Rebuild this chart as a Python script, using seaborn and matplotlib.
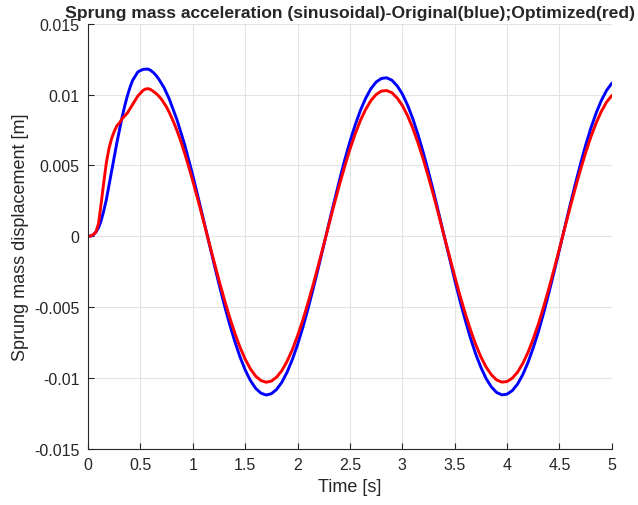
import numpy as np
import pandas as pd
import seaborn as sns
import matplotlib
matplotlib.use("Agg")
import matplotlib.pyplot as plt
from matplotlib.ticker import FuncFormatter

# time samples [s]: every 0.025 s up to 1 s (fast transient), then every 0.05 s
time_early = np.round(np.arange(41) * 0.025, 3)
time_late = np.round(1.05 + np.arange(80) * 0.05, 2)
time_s = np.concatenate([time_early, time_late])

# sprung mass displacement [m]
blue_early = [
    0.0, 0.00002, 0.0001, 0.0003, 0.0006, 0.0011, 0.0018, 0.0026, 0.0036, 0.0046,
    0.0056, 0.0066, 0.0075, 0.0084, 0.0092, 0.0099, 0.0105, 0.0110, 0.0113, 0.0116,
    0.0117, 0.01178, 0.0118, 0.0118, 0.0117, 0.01155, 0.01135, 0.0111, 0.0108, 0.0105,
    0.0101, 0.0097, 0.0092, 0.0087, 0.0082, 0.0076, 0.0070, 0.0064, 0.0057, 0.0050,
    0.0043,
]
blue_late = [
    0.00277, 0.00124, -0.00031, -0.00186, -0.00337, -0.00482, -0.00617, -0.00740, -0.00850,
    -0.00943, -0.01018, -0.01073, -0.01107, -0.01120, -0.01111, -0.01081, -0.01030, -0.00959, -0.00870,
    -0.00764, -0.00644, -0.00510, -0.00367, -0.00217, -0.00063, 0.00093, 0.00246, 0.00395, 0.00538,
    0.00669, 0.00786, 0.00889, 0.00974, 0.01042, 0.01089, 0.01114, 0.01119, 0.01102, 0.01063,
    0.01005, 0.00926, 0.00830, 0.00717, 0.00591, 0.00454, 0.00309, 0.00156, 0.0, -0.00153,
    -0.00307, -0.00454, -0.00590, -0.00717, -0.00830, -0.00925, -0.01004, -0.01063, -0.01102, -0.01119,
    -0.01114, -0.01089, -0.01043, -0.00976, -0.00890, -0.00786, -0.00670, -0.00539, -0.00396, -0.00248,
    -0.00094, 0.00062, 0.00216, 0.00366, 0.00508, 0.00643, 0.00764, 0.00870, 0.00959, 0.01030,
    0.01081,
]
red_early = [
    0.0, 0.00003, 0.00012, 0.0003, 0.0009, 0.0023, 0.0038, 0.0052, 0.0062, 0.0069,
    0.0074, 0.0078, 0.0080, 0.0083, 0.0085, 0.0087, 0.0090, 0.0093, 0.0096, 0.0099,
    0.0101, 0.0103, 0.0104, 0.01042, 0.01035, 0.01022, 0.01008, 0.00990, 0.00968, 0.00941,
    0.00911, 0.00875, 0.00835, 0.00791, 0.00744, 0.00693, 0.00638, 0.00580, 0.00519, 0.00456,
    0.00390,
]
red_late = [
    0.00254, 0.00114, -0.00029, -0.00171, -0.00310, -0.00443, -0.00568, -0.00681, -0.00782,
    -0.00867, -0.00936, -0.00987, -0.01018, -0.01030, -0.01022, -0.00994, -0.00948, -0.00882, -0.00800,
    -0.00702, -0.00592, -0.00469, -0.00338, -0.00200, -0.00058, 0.00085, 0.00227, 0.00364, 0.00494,
    0.00615, 0.00723, 0.00818, 0.00896, 0.00958, 0.01001, 0.01025, 0.01029, 0.01014, 0.00977,
    0.00924, 0.00852, 0.00763, 0.00659, 0.00544, 0.00417, 0.00284, 0.00143, 0.0, -0.00141,
    -0.00282, -0.00417, -0.00543, -0.00659, -0.00763, -0.00851, -0.00923, -0.00977, -0.01014, -0.01029,
    -0.01025, -0.01001, -0.00959, -0.00897, -0.00819, -0.00723, -0.00616, -0.00495, -0.00365, -0.00228,
    -0.00087, 0.00057, 0.00199, 0.00337, 0.00468, 0.00591, 0.00702, 0.00800, 0.00882, 0.00948,
    0.00994,
]
original_blue = blue_early + blue_late
optimized_red = red_early + red_late

x_ticks = [0, 0.5, 1, 1.5, 2, 2.5, 3, 3.5, 4, 4.5, 5]
y_ticks = [-0.015, -0.01, -0.005, 0, 0.005, 0.01, 0.015]

df = pd.DataFrame({
    "t": np.concatenate([time_s, time_s]),
    "x": original_blue + optimized_red,
    "case": ["Original"] * len(time_s) + ["Optimized"] * len(time_s),
})

sns.set_style("whitegrid")
plt.rcParams["font.family"] = ["Liberation Sans", "DejaVu Sans"]
plt.rcParams["axes.unicode_minus"] = False

fig = plt.figure(figsize=(6.38, 5.06), dpi=100)
ax = fig.add_axes([0.138, 0.111, 0.821, 0.840])

sns.lineplot(data=df, x="t", y="x", hue="case", palette={"Original": "#0000ff", "Optimized": "#ff0000"},
             linewidth=2.1, legend=False, ax=ax, sort=False)

ax.set_xlim(0, 5)
ax.set_ylim(-0.015, 0.015)
ax.set_xticks(x_ticks)
ax.set_yticks(y_ticks)
fmt = FuncFormatter(lambda v, p: "%g" % v)
ax.xaxis.set_major_formatter(fmt)
ax.yaxis.set_major_formatter(fmt)

ax.grid(True, color="#e3e3e3", linewidth=0.8)
ax.tick_params(bottom=True, left=True, direction="in", length=4, width=0.8,
               colors="#262626", labelsize=11.5, pad=6)
for s in ["top", "right"]:
    ax.spines[s].set_visible(False)
for s in ["left", "bottom"]:
    ax.spines[s].set_color("#262626")
    ax.spines[s].set_linewidth(0.8)

ax.set_xlabel("Time [s]", fontsize=13, color="#262626", labelpad=4)
ax.set_ylabel("Sprung mass displacement [m]", fontsize=13, color="#262626", labelpad=4)
ax.set_title("Sprung mass acceleration (sinusoidal)-Original(blue);Optimized(red)",
             fontsize=12.6, fontweight="bold", pad=5)

fig.savefig("out.png", dpi=100)
